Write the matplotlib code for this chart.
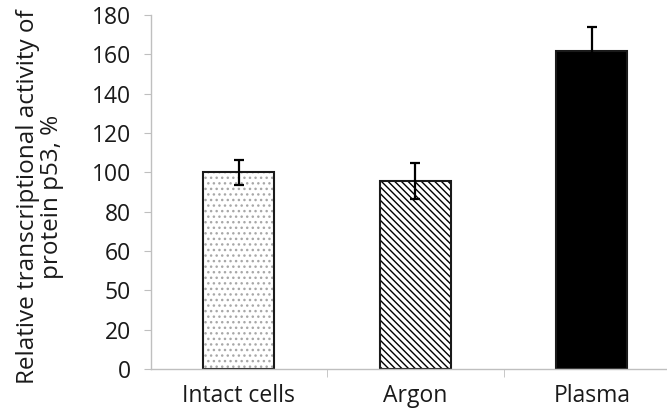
import matplotlib
matplotlib.use("Agg")
import matplotlib.pyplot as plt

# values
categories = ["Intact cells", "Argon", "Plasma"]
activity = [100.0, 95.5, 161.5]
errors = [6.5, 9.0, 12.5]
yticks = [0, 20, 40, 60, 80, 100, 120, 140, 160, 180]
ytick_labels = ["0", "20", "50", "60", "80", "100", "120", "140", "160", "180"]

plt.rcParams["font.family"] = ["Open Sans", "DejaVu Sans"]
plt.rcParams["hatch.linewidth"] = 1.0

fig = plt.figure(figsize=(6.67, 4.15), dpi=100)
ax = fig.add_axes([150.5 / 667, 46 / 415, (667 - 150.5) / 667, 354 / 415])

x = range(len(categories))
w = 0.4
# dotted bar (gray stipple), hatched bar, solid bar
ax.bar(0, activity[0], w, color="white", edgecolor="#a8a8a8", hatch="...", linewidth=0)
ax.bar(1, activity[1], w, color="white", edgecolor="black", hatch="\\\\\\\\\\", linewidth=0)
ax.bar(2, activity[2], w, color="black", edgecolor="black", linewidth=0)
ax.bar(x, activity, w, fill=False, edgecolor="#1a1a1a", linewidth=1.5)
ax.errorbar(x, activity, yerr=errors, fmt="none", ecolor="black",
            elinewidth=1.6, capsize=3.5, capthick=1.6)

ax.set_xlim(-0.5, -0.5 + (667 - 150.5) / 176.5)
ax.set_ylim(0, 180)
ax.set_yticks(yticks)
ax.set_yticklabels(ytick_labels)
ax.set_xticks(list(x))
ax.set_xticklabels(categories)
ax.set_xticks([0.5, 1.5], minor=True)

for s in ["top", "right"]:
    ax.spines[s].set_visible(False)
for s in ["left", "bottom"]:
    ax.spines[s].set_color("#bfbfbf")
    ax.spines[s].set_linewidth(1.0)

ax.tick_params(axis="y", length=5, color="#bfbfbf", pad=9, labelsize=16.5, labelcolor="#1a1a1a")
ax.tick_params(axis="x", which="major", length=0, pad=11, labelsize=16.5, labelcolor="#1a1a1a")
ax.tick_params(axis="x", which="minor", length=6, color="#bfbfbf")

fig.text(40 / 667, 0.525, "Relative transcriptional activity of\nprotein p53, %",
         rotation=90, ha="center", va="center", multialignment="center",
         fontsize=17.5, color="#1a1a1a", linespacing=1.05)

fig.savefig("out.png", dpi=100)
